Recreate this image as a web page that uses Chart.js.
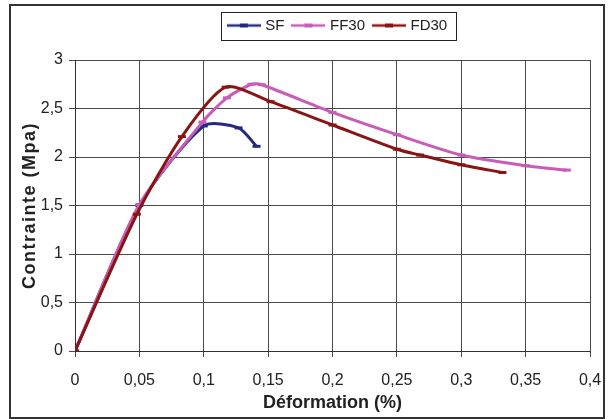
<!DOCTYPE html>
<html>
<head>
<meta charset="utf-8">
<script src="https://cdn.jsdelivr.net/npm/chart.js@4.4.1/dist/chart.umd.min.js"></script>
<style>
  html, body { margin: 0; padding: 0; background: #fff; }
</style>
</head>
<body>
<canvas id="chart" width="608" height="419"></canvas>
<script>
// values: Déformation (%) -> Contrainte (Mpa)
const sfX = [0, 0.05, 0.1, 0.127, 0.141];
const sfY = [0, 1.5, 2.32, 2.3, 2.11];
const ff30X = [0, 0.05, 0.099, 0.118, 0.137, 0.145, 0.2, 0.25, 0.3, 0.35, 0.382];
const ff30Y = [0, 1.51, 2.36, 2.61, 2.75, 2.745, 2.46, 2.23, 2.02, 1.91, 1.865];
const fd30X = [0, 0.048, 0.083, 0.117, 0.152, 0.2, 0.25, 0.268, 0.3, 0.332];
const fd30Y = [0, 1.41, 2.21, 2.72, 2.57, 2.33, 2.08, 2.02, 1.92, 1.84];

const seriesNames = ["SF", "FF30", "FD30"];
const seriesColors = ["#232a82", "#c85cb6", "#8a1414"];

const xTickLabels = ["0", "0,05", "0,1", "0,15", "0,2", "0,25", "0,3", "0,35", "0,4"];
const yTickLabels = ["0", "0,5", "1", "1,5", "2", "2,5", "3"];

const xTitle = "Déformation (%)";
const yTitle = "Contrainte (Mpa)";

function toPoints(xs, ys) {
  return xs.map((x, i) => ({ x: x, y: ys[i] }));
}

// legend sample: a line with a small marker in the middle
function legendIcon(color) {
  const c = document.createElement("canvas");
  c.width = 34;
  c.height = 8;
  const g = c.getContext("2d");
  g.strokeStyle = color;
  g.lineWidth = 2.5;
  g.beginPath();
  g.moveTo(0, 4);
  g.lineTo(34, 4);
  g.stroke();
  g.fillStyle = color;
  g.fillRect(13, 2, 8, 4);
  return c;
}
const legendIcons = seriesColors.map(legendIcon);

const LEGEND_FONT = 15;

Chart.defaults.font.family = '"Liberation Sans", Arial, sans-serif';
Chart.defaults.color = "#222";

const frame = {
  id: "frame",
  beforeUpdate(chart) {
    const lg = chart.legend;
    if (lg && !lg._extraPatched) {
      const fit = lg.fit;
      lg.fit = function () {
        fit.call(this);
        this.height += 17;
      };
      lg._extraPatched = true;
    }
  },
  afterLayout(chart) {
    const lg = chart.legend;
    const ca = chart.chartArea;
    const d = (ca.left + ca.right) / 2 + 6 - (lg.left + lg.right) / 2;
    lg.left += d;
    lg.right += d;

    // spaced-out letters for the y title, as in the original
    const ys = chart.scales.y;
    if (ys && !ys._spaced) {
      const dt = ys.drawTitle;
      ys.drawTitle = function () {
        this.ctx.save();
        this.ctx.letterSpacing = "1.5px";
        dt.call(this);
        this.ctx.restore();
      };
      ys._spaced = true;
    }
  },
  afterDraw(chart) {
    const ctx = chart.ctx;
    const lg = chart.legend;
    const pad = lg.options.labels.padding;
    const lw = lg.lineWidths[0];
    const rowStart = (lg.left + pad + lg.right - lw) / 2;
    const rowEnd = rowStart + lw - pad;
    const cy = lg.top + pad + LEGEND_FONT / 2;
    ctx.save();
    ctx.strokeStyle = "#222";
    ctx.lineWidth = 1;
    ctx.strokeRect(Math.round(rowStart - 9) + 0.5, Math.round(cy - 14) + 0.5,
      Math.round(rowEnd - rowStart + 18), 28);
    // outer chart border
    ctx.lineWidth = 2;
    ctx.strokeStyle = "#333";
    ctx.strokeRect(10, 5, 594, 413);
    ctx.restore();
  }
};

new Chart(document.getElementById("chart"), {
  type: "line",
  data: {
    datasets: [
      { label: seriesNames[0], data: toPoints(sfX, sfY), order: 2 },
      { label: seriesNames[1], data: toPoints(ff30X, ff30Y), order: 1 },
      { label: seriesNames[2], data: toPoints(fd30X, fd30Y), order: 0 }
    ].map((ds, i) => Object.assign(ds, {
      borderColor: seriesColors[i],
      backgroundColor: seriesColors[i],
      borderWidth: 3,
      tension: 0.25,
      pointStyle: "line",
      pointRadius: 4,
      pointBorderWidth: 3,
      pointBorderColor: seriesColors[i],
      fill: false
    }))
  },
  options: {
    responsive: false,
    animation: false,
    layout: { padding: { left: 0, right: 18, top: 8, bottom: 0 } },
    plugins: {
      tooltip: { enabled: false },
      legend: {
        position: "top",
        labels: {
          usePointStyle: true,
          pointStyleWidth: 28,
          padding: 10,
          color: "#222",
          font: { size: LEGEND_FONT },
          sort: (a, b) => a.datasetIndex - b.datasetIndex,
          generateLabels(chart) {
            const items = Chart.defaults.plugins.legend.labels.generateLabels(chart);
            items.forEach(it => { it.pointStyle = legendIcons[it.datasetIndex]; });
            return items;
          }
        }
      }
    },
    scales: {
      x: {
        type: "linear",
        min: 0,
        max: 0.4,
        afterFit(scale) {
          scale.height = 68;
          scale.paddingLeft = 0;
          scale.paddingRight = 0;
        },
        ticks: {
          stepSize: 0.05,
          padding: 14,
          maxRotation: 0,
          font: { size: 16 },
          color: "#222",
          callback: (v, i) => xTickLabels[i]
        },
        grid: { color: "#4a4a4a", lineWidth: 1, tickLength: 6 },
        border: { color: "#333", width: 1 },
        title: {
          display: true,
          text: xTitle,
          font: { size: 18, weight: "bold" },
          color: "#222",
          padding: { top: 0, bottom: 5 }
        }
      },
      y: {
        min: 0,
        max: 3,
        afterFit(scale) { scale.width = 75; },
        ticks: {
          stepSize: 0.5,
          padding: 6,
          font: { size: 16 },
          color: "#222",
          callback: (v, i) => yTickLabels[i]
        },
        grid: { color: "#4a4a4a", lineWidth: 1, tickLength: 6 },
        border: { color: "#333", width: 1 },
        title: {
          display: true,
          text: yTitle,
          font: { size: 18, weight: "bold" },
          color: "#222",
          padding: { top: 19, bottom: 0 }
        }
      }
    }
  },
  plugins: [frame]
});
</script>
</body>
</html>
